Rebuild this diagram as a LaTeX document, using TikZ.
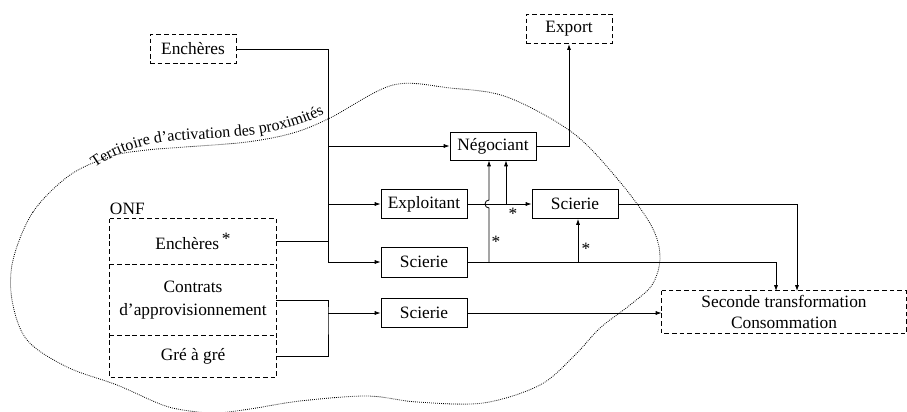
\documentclass[tikz,border=0pt]{standalone}
\usepackage{fontspec}
\setmainfont{Liberation Serif}
\usetikzlibrary{arrows.meta,decorations.text}

\begin{document}
\begin{tikzpicture}[x=0.03cm, y=-0.03cm, line width=0.7pt, >={Latex[length=5pt,width=3.5pt]},
    every node/.style={font=\fontsize{14.8}{19}\selectfont, inner sep=.7mm},
    boite/.style={draw, minimum width=2.58cm, minimum height=0.87cm},
    tiret/.style={draw, dash pattern=on 4pt off 2.5pt, minimum width=2.58cm, minimum height=0.88cm},
    etoile/.style={font=\fontsize{14.8}{16}\selectfont, inner sep=0pt}]
  \useasboundingbox (0,0) rectangle (907,411);

  % territoire
  \draw [line width=0.7pt, dash pattern=on 0.7pt off 1pt] plot [smooth cycle, tension=0.55] coordinates {
    (13,260) (33,212) (70,175) (112,156) (147,150) (185,147) (247,142) (293,133) (330,118)
    (393,85) (450,88) (507,97) (573,133) (620,182) (652,227) (660,258) (652,285) (630,305)
    (600,328) (575,355) (540,385) (483,403) (417,402) (367,396) (300,401) (250,409) (215,413)
    (183,410) (160,404) (117,385) (67,367) (27,340) (12,300)};
  \path [decorate, decoration={text along path, text align=left,
      text={|\fontsize{13.6}{16}\selectfont|Territoire d’activation des proximités}}]
    (95,168) .. controls (120,150) and (150,141) .. (200,139) .. controls (255,137) and (290,131) .. (324,114);

  % noeuds
  \node [tiret] (encha) at (193,49) {Enchères};
  \node [tiret, minimum width=2.58cm] (export) at (569,29) {Export};
  \node [boite, minimum height=0.84cm] (neg) at (493,146) {Négociant};
  \node [boite] (expl) at (424,204) {Exploitant};
  \node [boite] (sc1) at (575,204) {Scierie};
  \node [boite, minimum height=0.9cm] (sc2) at (424,262) {Scierie};
  \node [boite] (sc3) at (424,313) {Scierie};
  \node [minimum width=7.32cm, minimum height=1.26cm, align=center, font=\fontsize{14.8}{17.5}\selectfont] (sec) at (784,312) {Seconde transformation\\Consommation};
  \draw [dash pattern=on 4pt off 2.5pt] (sec.north west) rectangle (sec.south east);

  % ONF
  \node [minimum width=4.98cm, minimum height=1.35cm] (onf1) at (193,241.5) {Enchères\,\raisebox{4pt}{*}};
  \node [minimum width=4.98cm, minimum height=2.16cm, align=center] (onf2) at (193,300) {Contrats\\d’approvisionnement};
  \node [minimum width=4.98cm, minimum height=1.23cm] (onf3) at (193,356.5) {Gré à gré};
  \node [anchor=south west, inner sep=0pt] (onf) at ([yshift=3pt]onf1.north west) {ONF};
  \draw [dash pattern=on 4pt off 2.5pt] (onf1.north west) rectangle (onf3.south east);
  \draw [dash pattern=on 4pt off 2.5pt] (onf1.south west) -- (onf1.south east);
  \draw [dash pattern=on 4pt off 2.5pt] (onf3.north west) -- (onf3.north east);

  % liaisons
  \coordinate (bus) at (328,262);
  \coordinate (busc) at (328,313);
  \coordinate (hop) at (489,262);
  \coordinate (up1) at (506,204);
  \coordinate (up2) at (578,262);
  \coordinate (in1) at (776,291);
  \coordinate (in2) at (797,291);
  \draw [->] (encha.east) -| (bus) -- (sc2.west);
  \draw [->] (neg.west -| bus) -- (neg.west);
  \draw [->] (expl.west -| bus) -- (expl.west);
  \draw (onf1.east) -- (onf1.east -| bus);
  \draw (onf2.east) -| (busc) |- (onf3.east);
  \draw [->] (busc) -- (sc3.west);
  \draw [->] (neg.east) -| (export.south);
  \draw [->] (expl.east) -- (sc1.west);
  \draw [->] (hop) -- (489,208) arc [start angle=-90, end angle=-270, radius=0.12cm] -- (hop |- neg.south);
  \draw [->] (up1) -- (up1 |- neg.south);
  \draw [->] (sc2.east) -| (in1);
  \draw [->] (up2) -- (up2 |- sc1.south);
  \draw [->] (sc1.east) -| (in2);
  \draw [->] (sc3.east) -- (sc3.east -| sec.west);

  % etoiles
  \node [etoile] (s1) at (513,214) {*};
  \node [etoile] (s2) at (496,242) {*};
  \node [etoile] (s3) at (586,249) {*};
\end{tikzpicture}
\end{document}
